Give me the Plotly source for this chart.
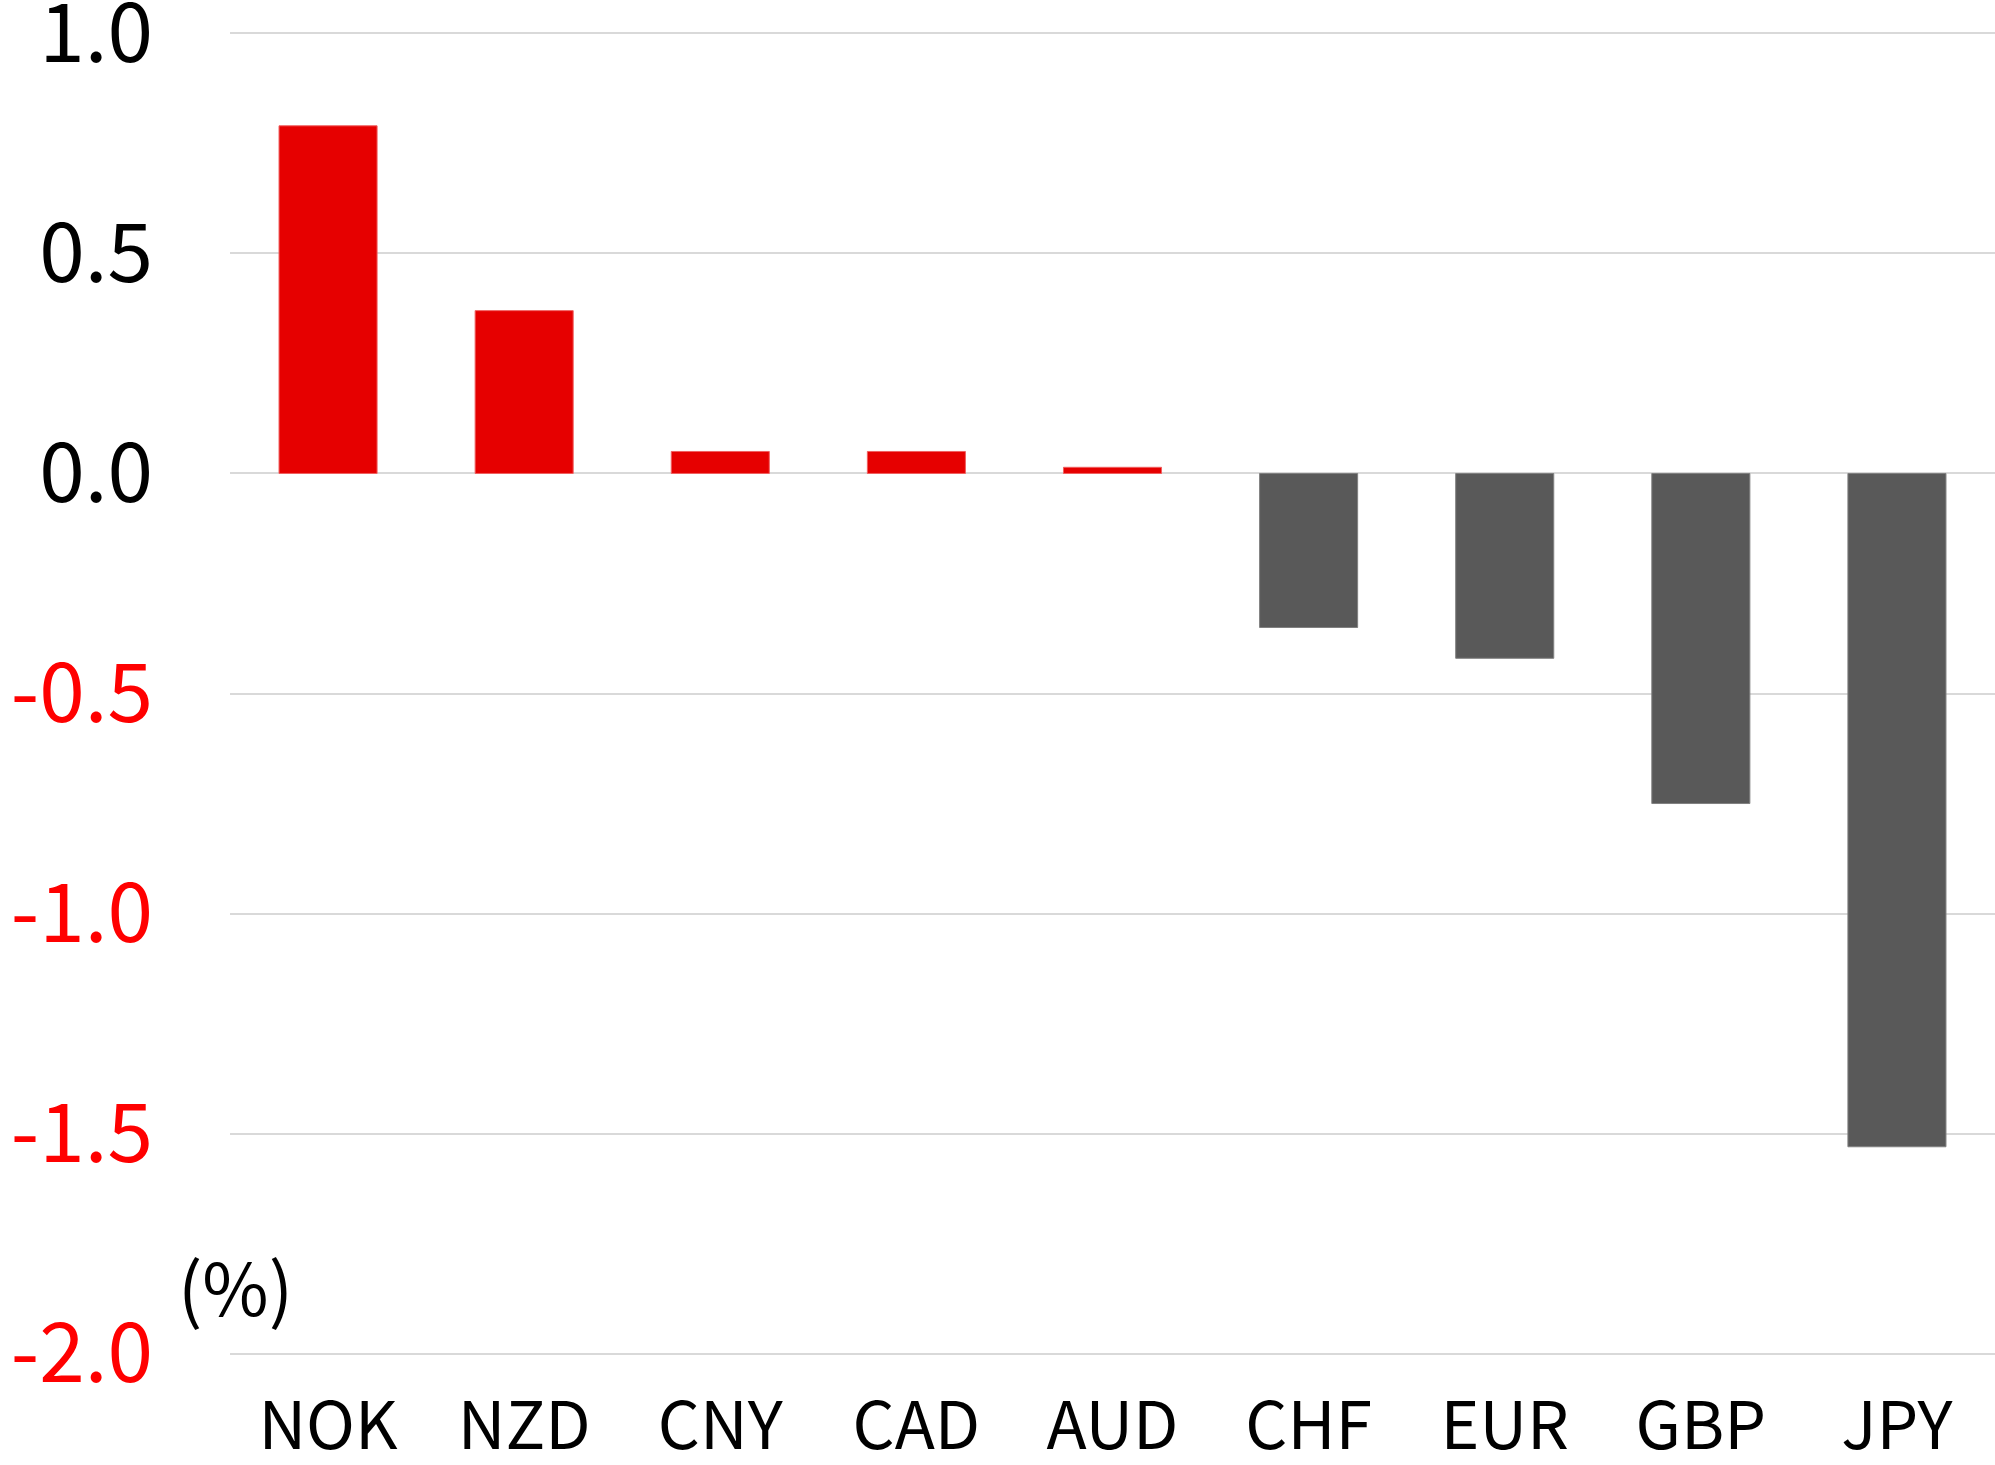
import plotly.graph_objects as go

currencies = ["NOK", "NZD", "CNY", "CAD", "AUD", "CHF", "EUR", "GBP", "JPY"]
changes = [0.79, 0.37, 0.05, 0.05, 0.014, -0.35, -0.42, -0.75, -1.53]
y_tick_vals = [1.0, 0.5, 0.0, -0.5, -1.0, -1.5, -2.0]
y_tick_text = ["1.0", "0.5", "0.0", "-0.5", "-1.0", "-1.5", "-2.0"]
unit_label = "(%)"

RED = "#E60000"
GRAY = "#595959"

bar_colors = [RED if v >= 0 else GRAY for v in changes]
line_colors = ["#F06060" if v >= 0 else "#808080" for v in changes]

ticktext = []
for v, t in zip(y_tick_vals, y_tick_text):
    if v < 0:
        ticktext.append('<span style="color:#FF0000">' + t + '</span>')
    else:
        ticktext.append(t)

FONT = "Noto Sans CJK JP"

fig = go.Figure()
fig.add_trace(go.Bar(
    x=currencies,
    y=changes,
    marker=dict(color=bar_colors, line=dict(color=line_colors, width=1)),
    width=0.5,
))

fig.update_layout(
    width=1995,
    height=1465,
    margin=dict(l=230, r=0, t=29, b=107),
    paper_bgcolor="white",
    plot_bgcolor="white",
    showlegend=False,
    font=dict(family=FONT, color="black", size=60),
)
fig.update_xaxes(
    type="category",
    showgrid=False,
    showline=False,
    ticks="",
    automargin=False,
    tickfont=dict(family=FONT, size=66, color="black"),
    ticklabelstandoff=24,
)
fig.update_yaxes(
    range=[-2.01, 1.01],
    tickvals=y_tick_vals,
    ticktext=ticktext,
    showgrid=True,
    gridcolor="#D9D9D9",
    gridwidth=2,
    zeroline=True,
    zerolinecolor="#D9D9D9",
    zerolinewidth=2,
    showline=False,
    ticks="",
    automargin=False,
    ticklabeloverflow="allow",
    tickfont=dict(family=FONT, size=82, color="black"),
    ticklabelstandoff=76,
)
fig.add_annotation(
    text=unit_label,
    xref="paper", yref="paper",
    x=0.003, y=0.055,
    xanchor="center", yanchor="middle",
    showarrow=False,
    font=dict(family=FONT, size=72, color="black"),
)

fig.write_html(
    "out.html",
    config={"displayModeBar": False},
    post_script="document.body.style.margin='0';",
)
